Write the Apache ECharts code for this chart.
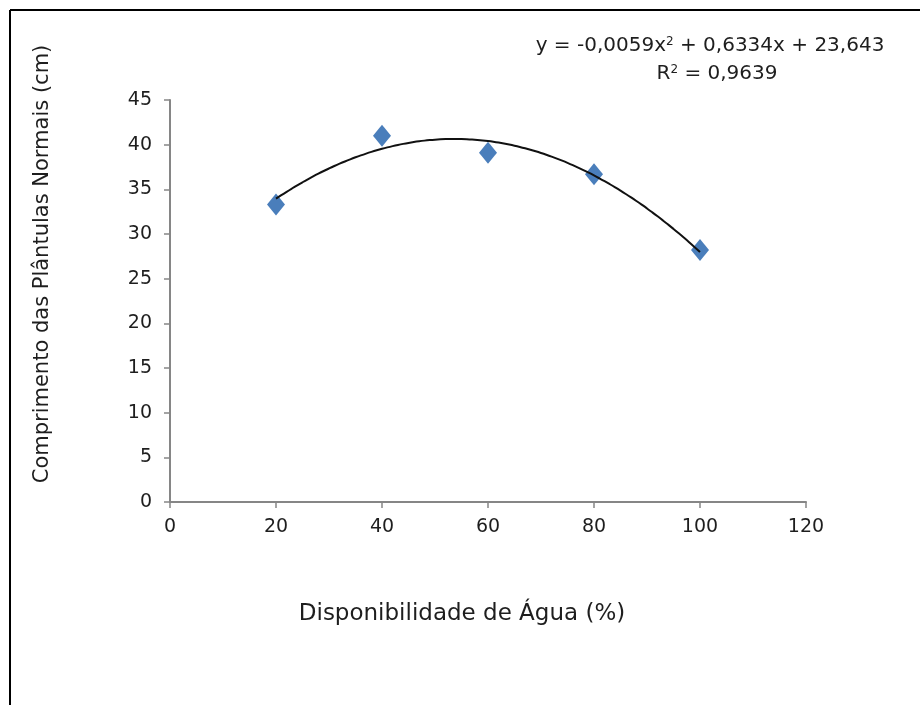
<!DOCTYPE html>
<html>
<head>
<meta charset="utf-8">
<script src="https://cdn.jsdelivr.net/npm/echarts@6/dist/echarts.min.js"></script>
<style>
  html, body { margin: 0; padding: 0; background: #fff; }
  #chart { width: 920px; height: 705px; }
</style>
</head>
<body>
<div id="chart"></div>
<script>
// water availability (%) and seedling length (cm)
var agua = [20, 40, 60, 80, 100];
var comprimento = [33.3, 41.0, 39.1, 36.7, 28.2];
// trendline coefficients as printed on the chart: y = a x^2 + b x + c
var coefA = -0.0059, coefB = 0.6334, coefC = 23.643;
var equacao = 'y = -0,0059x';
var equacaoResto = ' + 0,6334x + 23,643';
var r2 = ' = 0,9639';
var nomeX = 'Disponibilidade de Água (%)';
var nomeY = 'Comprimento das Plântulas Normais (cm)';

var pontos = agua.map(function (x, i) { return [x, comprimento[i]]; });
var tendencia = [];
for (var x = agua[0]; x <= agua[agua.length - 1]; x += 1) {
  tendencia.push([x, coefA * x * x + coefB * x + coefC]);
}

var fonte = '"DejaVu Sans", "Open Sans", sans-serif';
var cor = '#1e1e1e';
var richEq = {
  a: { fontSize: 20, fontFamily: fonte, fill: cor },
  s: { fontSize: 12, fontFamily: fonte, fill: cor, verticalAlign: 'top', padding: [0, 0, 9, 0] }
};
var chart = echarts.init(document.getElementById('chart'));
chart.setOption({
  animation: false,
  grid: { left: 170, right: 114, top: 100, bottom: 203 },
  xAxis: {
    type: 'value', min: 0, max: 120, interval: 20,
    axisLine: { lineStyle: { color: '#868686', width: 2 } },
    axisTick: { length: 6, lineStyle: { color: '#868686', width: 1.5 } },
    axisLabel: { fontSize: 19, color: cor, margin: 16, fontFamily: fonte },
    splitLine: { show: false }
  },
  yAxis: {
    type: 'value', min: 0, max: 45, interval: 5,
    axisLine: { show: true, lineStyle: { color: '#868686', width: 2 } },
    axisTick: { show: true, length: 6, lineStyle: { color: '#868686', width: 1.5 } },
    axisLabel: { fontSize: 19, color: cor, margin: 18, fontFamily: fonte },
    splitLine: { show: false }
  },
  series: [
    {
      type: 'line', data: tendencia, smooth: true, showSymbol: false,
      lineStyle: { color: '#111', width: 2 }, z: 3
    },
    {
      type: 'scatter', data: pontos, symbol: 'diamond', symbolSize: [18, 22],
      itemStyle: { color: '#4a7ebb', opacity: 1 }, z: 2
    }
  ],
  graphic: [
    { type: 'line', shape: { x1: 10, y1: 10, x2: 920, y2: 10 }, style: { stroke: '#000', lineWidth: 2 } },
    { type: 'line', shape: { x1: 10, y1: 10, x2: 10, y2: 705 }, style: { stroke: '#000', lineWidth: 2 } },
    {
      type: 'text', x: 710, y: 46,
      style: {
        text: '{a|' + equacao + '}{s|2}{a|' + equacaoResto + '}',
        align: 'center', verticalAlign: 'middle', rich: richEq
      }
    },
    {
      type: 'text', x: 717, y: 74,
      style: {
        text: '{a|R}{s|2}{a|' + r2 + '}',
        align: 'center', verticalAlign: 'middle', rich: richEq
      }
    },
    {
      type: 'text', x: 462, y: 614,
      style: { text: nomeX, align: 'center', verticalAlign: 'middle', fontSize: 23, fontFamily: fonte, fill: cor }
    },
    {
      type: 'text', x: 43, y: 264, rotation: Math.PI / 2,
      style: { text: nomeY, align: 'center', verticalAlign: 'middle', fontSize: 21, fontFamily: fonte, fill: cor }
    }
  ]
});
</script>
</body>
</html>
